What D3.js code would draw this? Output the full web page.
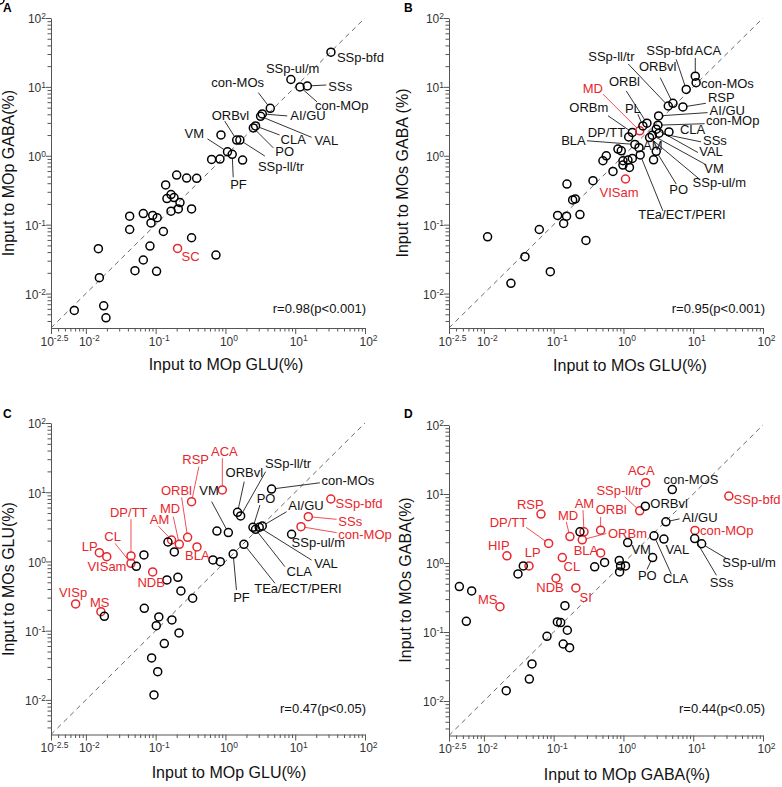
<!DOCTYPE html>
<html><head><meta charset="utf-8">
<script src="https://cdn.jsdelivr.net/npm/d3@7"></script>
<style>body{margin:0;background:#fff;} svg{display:block;font-family:"Liberation Sans",Arial,sans-serif;}</style>
</head><body><svg id="chart" width="782" height="787"></svg>
<script>
// ---------------- DATA ----------------
// Panel A: MOp GLU (x) vs MOp GABA (y)
const aNames = ["SSp-bfd","SSp-ul/m","SSs","con-MOp","con-MOs","AI/GU","VAL","CLA","PO","ORBvl","SSp-ll/tr","VM","PF","SC",
  "","","","","","","","","","","","","","","","","","","","","","","","","","","","","","","","","",""];
const aX = [32.5,8.67,14.9,11.7,4.39,3.37,3.19,2.70,2.51,1.45,1.61,1.07,1.25,0.206,
  0.863,0.634,0.834,1.76,0.200,0.278,0.387,0.139,0.166,0.145,0.183,0.223,0.166,0.211,0.327,0.0424,0.0665,0.0906,0.105,0.0857,
  0.0424,0.129,0.327,0.0151,0.0828,0.731,0.0665,0.0505,0.103,0.0156,0.00682,0.0180,0.0194];
const aY = [31.9,12.8,10.3,10.0,4.89,4.05,3.74,2.71,2.54,1.69,1.69,1.14,1.05,0.0452,
  2.01,0.885,0.895,0.865,0.525,0.475,0.470,0.377,0.273,0.239,0.247,0.209,0.157,0.169,0.169,0.133,0.145,0.136,0.126,0.106,
  0.0851,0.0796,0.0646,0.0448,0.0489,0.0362,0.0307,0.0215,0.0210,0.0170,0.00568,0.00664,0.00445];
const aRed = ["SC"];

// Panel B: MOs GLU (x) vs MOs GABA (y)
const bNames = ["ACA","con-MOs","SSp-bfd","ORBvl","SSp-ll/tr","RSP","AI/GU","con-MOp","CLA","SSs","VAL","VM","SSp-ul/m","PO",
  "TEa/ECT/PERI","AM","BLA","DP/TT","ORBm","MD","PL","ORBl","VISam",
  "","","","","","","","","","","","","","","","","","","","","","","","",""];
const bX = [10.7,11.0,7.94,5.12,4.39,7.11,3.19,3.12,4.49,3.23,2.95,2.59,2.37,2.95,
  1.74,1.67,1.46,1.19,1.34,1.71,1.90,2.17,1.07,
  2.70,0.834,0.931,0.568,0.508,0.984,1.16,1.34,0.984,1.22,0.708,0.366,0.155,0.187,0.204,0.114,0.153,0.238,0.139,0.0622,
  0.0113,0.290,0.0388,0.0895,0.0244];
const bY = [14.3,11.5,9.20,5.77,5.28,5.11,3.79,2.78,2.22,2.13,2.43,1.99,1.84,1.16,
  1.03,1.31,1.46,1.88,2.18,2.30,2.71,2.97,0.460,
  0.875,1.25,1.18,1.00,0.847,0.847,0.865,0.914,0.733,0.678,0.593,0.435,0.389,0.229,0.236,0.136,0.133,0.140,0.104,0.0851,
  0.0667,0.0590,0.0343,0.0208,0.0141];
const bRed = ["MD","VISam"];

// Panel C: MOp GLU (x) vs MOs GLU (y)
const cNames = ["ACA","RSP","ORBl","MD","AM","BLA","DP/TT","CL","LP","VISam","NDB","VISp","MS","SSp-bfd","SSs","con-MOp",
  "ORBvl","SSp-ll/tr","VM","con-MOs","PO","CLA","VAL","AI/GU","SSp-ul/m","TEa/ECT/PERI","PF",
  "","","","","","","","","","","","","","","","","","","","",""];
const cX = [0.902,0.327,0.287,0.218,0.169,0.391,0.0443,0.0443,0.0156,0.0199,0.0906,0.00713,0.0164,32.4,15.4,12.1,
  1.49,1.65,1.10,4.58,2.48,2.70,3.05,3.37,8.87,1.84,1.29,
  0.755,0.662,0.843,0.150,0.185,0.0679,0.0528,0.145,0.208,0.230,0.339,0.0687,0.0184,0.111,0.171,0.102,0.216,0.133,0.0875,
  0.107,0.0946];
const cY = [10.8,7.31,2.23,1.77,2.04,1.62,1.20,0.940,1.34,1.17,0.705,0.243,0.188,7.98,4.44,3.18,
  5.12,4.54,2.61,11.1,3.11,2.91,3.11,3.25,2.47,1.77,1.28,
  2.75,1.05,0.993,1.91,1.37,1.24,0.851,0.540,0.590,0.374,0.294,0.210,0.161,0.158,0.143,0.118,0.0927,0.0650,0.0404,
  0.0256,0.0118];
const cRed = ["ACA","RSP","ORBl","MD","AM","BLA","DP/TT","CL","LP","VISam","NDB","VISp","MS","SSp-bfd","SSs","con-MOp"];

// Panel D: MOp GABA (x) vs MOs GABA (y)
const dNames = ["ACA","SSp-ll/tr","RSP","AM","ORBl","MD","ORBm","DP/TT","HIP","LP","CL","BLA","NDB","SI","MS","SSp-bfd","con-MOp",
  "con-MOS","ORBvl","AI/GU","VM","CLA","VAL","PO","SSs","SSp-ul/m",
  "","","","","","","","","","","","","","","","","","","","","",""];
const dX = [2.08,1.71,0.0658,0.272,0.471,0.171,0.257,0.0847,0.0214,0.0443,0.133,0.471,0.108,0.208,0.0170,32.4,10.6,
  5.01,2.06,4.06,1.15,2.74,3.80,2.62,10.5,13.2,
  0.238,0.387,0.537,0.871,0.910,1.07,0.881,0.0367,0.0308,0.00445,0.00668,0.00560,0.145,0.113,0.126,0.157,0.0802,0.137,
  0.169,0.0489,0.0448,0.0209];
const dY = [14.6,5.71,5.11,2.83,2.99,2.42,2.17,1.92,1.27,0.908,1.20,1.40,0.601,0.436,0.233,9.33,2.96,
  11.6,6.67,3.95,1.98,2.48,2.22,1.20,2.26,1.90,
  2.83,0.879,1.02,1.09,0.908,0.908,0.743,0.908,0.695,0.455,0.394,0.143,0.241,0.140,0.137,0.106,0.0867,0.0670,
  0.0593,0.0344,0.0208,0.0141];
const dRed = ["ACA","SSp-ll/tr","RSP","AM","ORBl","MD","ORBm","DP/TT","HIP","LP","CL","BLA","NDB","SI","MS","SSp-bfd","con-MOp"];

const majorTicks = [0.01, 0.1, 1, 10, 100];
const rTexts = ["r=0.98(p<0.001)","r=0.95(p<0.001)","r=0.47(p<0.05)","r=0.44(p<0.05)"];
const xTitles = ["Input to MOp GLU(%)","Input to MOs GLU(%)","Input to MOp GLU(%)","Input to MOp GABA(%)"];
const yTitles = ["Input to MOp GABA(%)","Input to MOs GABA (%)","Input to MOs GLU(%)","Input to MOs GABA(%)"];
const letters = ["A","B","C","D"];

// ---------------- LAYOUT (label offsets in px: [dx, dy, leaderDx, leaderDy]) ----------------
const layoutA = {
 "SSp-bfd":[6,10],"SSp-ul/m":[-25,-7],"SSs":[21,5,19,-1],"con-MOp":[15,23,17,15],"con-MOs":[-59,-21,-12,-15.7],
 "AI/GU":[28,6,25,2],"VAL":[54,29,51,21],"CLA":[25,18,24,9],"PO":[22,28,20,20],"ORBvl":[-25,-20,-12,-19],
 "SSp-ll/tr":[18,31,25,16],"VM":[-43,-14,-20,-13],"PF":[-2,35,1,23],"SC":[4,13]
};
const layoutB = {
 "ACA":[-0.7,-20.7,0,-18.3],"con-MOs":[5,5],"SSp-bfd":[-40,-34,-10,-30],"ORBvl":[-34,-32,-12.7,-25.7],
 "SSp-ll/tr":[-80,-45,-40,-42],"RSP":[25,-5,23,-3.7],"AI/GU":[51,-0.7,49,-3.3],"con-MOp":[48,0,46.7,-1.5],
 "CLA":[11,2],"SSs":[44,12,42,8.7],"VAL":[43,27,41.7,23.3],"VM":[52,38,54,29.7],"SSp-ul/m":[43,49,50,41.7],
 "PO":[13,43,20,32.7],"TEa/ECT/PERI":[-2,64,22.7,56],"AM":[4,2.3],"BLA":[-73.7,0.7,-48,-3.7],"DP/TT":[-41,0],
 "ORBm":[-63,-20,-24.3,-16.7],"MD":[-57,-38,-36.7,-36.7],"PL":[-18,-13,-5,-11.7],"ORBl":[-38,-37,-20.7,-32.3],
 "VISam":[-26,18]
};
const layoutC = {
 "ACA":[-11.3,-34,0,-31.7],"RSP":[-9.3,-37.3,7.3,-35],"ORBl":[-26.7,-42.3,-6,-40],"MD":[-19.3,-31,-6,-27.7],
 "AM":[-21.7,-16,-13.3,-14],"BLA":[-12,13],"DP/TT":[-21,-39.3,0,-36.7],"CL":[-26.7,-22.7,-16,-20],"LP":[-17.5,-2],
 "VISam":[-19.3,14],"NDB":[-15.3,14.7],"VISp":[-16.7,-7.3],"MS":[-11,-5],"SSp-bfd":[4.7,9.3],"SSs":[30,9,28.3,2.7],
 "con-MOp":[37.3,12.5,35.7,6],"ORBvl":[-12,-35.7,6.7,-30.7],"SSp-ll/tr":[24.3,-47.7,25,-44.3],"VM":[-29,-37.7,-16.7,-31],
 "con-MOs":[50,-4,48.3,-6.3],"PO":[3.7,-24,7,-22.3],"AI/GU":[26,-16,24.3,-14.3],"SSp-ul/m":[0,13],
 "VAL":[55,41,52.3,32.7],"CLA":[31,46.7,29.3,37.3],"TEa/ECT/PERI":[10.3,49,31,39],"PF":[0,47.7,3.3,36]
};
const layoutD = {
 "ACA":[-17.7,-7.7],"SSp-ll/tr":[-43.3,-15.7,-15,-14],"RSP":[-24,-4.7],"AM":[-9.3,-24,-1,-21.7],"ORBl":[-5,-16,0,-13.3],
 "MD":[-12,-17,-3.7,-14.7],"ORBm":[25.7,-1.3,24,-6.3],"DP/TT":[-59,-16,-22.3,-16],"HIP":[-19,-6.3],"LP":[-4.3,-9],
 "CL":[1.3,13.3],"BLA":[-27,2.3],"NDB":[-19.7,13.7],"SI":[3.7,14],"MS":[-22,-2.3],"SSp-bfd":[4.7,8],"con-MOp":[5,4.7],
 "con-MOS":[-8.7,-6],"ORBvl":[5,1.7],"AI/GU":[16.3,0,13.7,-3],"VM":[3.7,11],"VAL":[1.7,15],"PO":[-14.7,22,-5.7,12],
 "CLA":[9,47,17.3,38.3],"SSs":[15,48.3,21.7,36.7],"SSp-ul/m":[20.7,23.7,24.7,14.7]
};

const frames = [
 {x0:51, x1:365, y0:328, y1:18, xt:[226,370], yt:[14,173], lt:[3,12], rt:[366,313]},
 {x0:449, x1:763, y0:328, y1:18, xt:[630,371], yt:[408,173], lt:[404,12], rt:[765,313]},
 {x0:51, x1:365, y0:734.5, y1:423, xt:[229,778], yt:[14,579], lt:[3,418], rt:[366,713]},
 {x0:449, x1:763, y0:735.5, y1:425, xt:[627,780], yt:[411,580], lt:[404,418], rt:[765,713]}
];

const RED = "#e8262b", AX = "#555", R = 4;
const svg = d3.select("#chart");
const dmin = Math.pow(10,-2.5);
const minorTicks = [];
for (let e = -3; e < 2; e++) for (let m = 2; m < 10; m++) { const v = m*Math.pow(10,e); if (v > dmin) minorTicks.push(v); }

function expLabel(d){ return String(Math.round(Math.log10(d)*10)/10); }
function styleLabels(g){
  g.selectAll(".tick text").each(function(d){
    const t = d3.select(this); t.text(null);
    t.append("tspan").text("10");
    t.append("tspan").attr("dy","-0.5em").attr("font-size","8.5px").text(expLabel(d));
  });
}

function drawPanel(i, names, xs, ys, reds, layout){
  const f = frames[i];
  const x = d3.scaleLog().domain([dmin,100]).range([f.x0,f.x1]);
  const y = d3.scaleLog().domain([dmin,100]).range([f.y0,f.y1]);
  const g = svg.append("g");

  // minor ticks
  g.append("g").attr("transform",`translate(0,${f.y0})`)
    .call(d3.axisBottom(x).tickValues(minorTicks).tickSize(3.5).tickFormat(""))
    .call(s=>{s.select(".domain").remove(); s.selectAll("line").attr("stroke",AX);});
  g.append("g").attr("transform",`translate(${f.x0},0)`)
    .call(d3.axisLeft(y).tickValues(minorTicks).tickSize(3.5).tickFormat(""))
    .call(s=>{s.select(".domain").remove(); s.selectAll("line").attr("stroke",AX);});
  // major ticks + labels
  const gx = g.append("g").attr("transform",`translate(0,${f.y0})`)
    .call(d3.axisBottom(x).tickValues([dmin].concat(majorTicks)).tickSize(6).tickSizeOuter(0));
  gx.attr("font-size",12).attr("font-family",null);
  gx.selectAll(".tick text").attr("fill","#333").attr("y",9).attr("dy","0.71em").attr("dx",3);
  styleLabels(gx);
  gx.select(".domain").attr("stroke",AX);
  gx.selectAll("line").attr("stroke",AX);
  const gy = g.append("g").attr("transform",`translate(${f.x0},0)`)
    .call(d3.axisLeft(y).tickValues(majorTicks).tickSize(5).tickSizeOuter(0));
  gy.attr("font-size",12).attr("font-family",null);
  gy.selectAll(".tick text").attr("fill","#333").attr("x",-5).attr("dy","0.4em");
  styleLabels(gy);
  gy.select(".domain").attr("stroke",AX);
  gy.selectAll("line").attr("stroke",AX);

  // diagonal y = x
  g.append("line").attr("x1",x(dmin)).attr("y1",y(dmin)).attr("x2",x(100)).attr("y2",y(100))
    .attr("stroke","#444").attr("stroke-width",0.8).attr("stroke-dasharray","5,4");

  const pts = names.map((n,k)=>({name:n, cx:x(xs[k]), cy:y(ys[k]), red:reds.includes(n)}));
  const lab = pts.filter(p=>p.name && layout[p.name]);

  // leader lines
  g.selectAll(null).data(lab.filter(p=>layout[p.name].length>2)).join("line")
    .each(function(p){
      const L = layout[p.name]; const ex = L[2], ey = L[3]; const len = Math.hypot(ex,ey) || 1;
      d3.select(this).attr("x1",p.cx+ex/len*R).attr("y1",p.cy+ey/len*R).attr("x2",p.cx+ex).attr("y2",p.cy+ey);
    })
    .attr("stroke",p=>p.red?RED:"#000").attr("stroke-width",0.8);

  // circles
  g.selectAll(null).data(pts).join("circle")
    .attr("cx",p=>p.cx).attr("cy",p=>p.cy).attr("r",R)
    .attr("fill","none").attr("stroke",p=>p.red?RED:"#000").attr("stroke-width",1.5);

  // point labels
  g.selectAll(null).data(lab).join("text")
    .attr("x",p=>p.cx+layout[p.name][0]).attr("y",p=>p.cy+layout[p.name][1])
    .attr("font-size",13).attr("fill",p=>p.red?RED:"#111").text(p=>p.name);

  // correlation text
  g.append("text").attr("x",f.rt[0]).attr("y",f.rt[1]).attr("text-anchor","end")
    .attr("font-size",13).attr("fill","#111").text(rTexts[i]);
  // axis titles
  g.append("text").attr("x",f.xt[0]).attr("y",f.xt[1]).attr("text-anchor","middle")
    .attr("font-size",16).attr("fill","#111").text(xTitles[i]);
  g.append("text").attr("transform",`translate(${f.yt[0]},${f.yt[1]}) rotate(-90)`).attr("text-anchor","middle")
    .attr("font-size",16).attr("fill","#111").text(yTitles[i]);
  // panel letter
  g.append("text").attr("x",f.lt[0]).attr("y",f.lt[1]).attr("font-size",12).attr("font-weight","bold")
    .attr("fill","#000").text(letters[i]);
}

drawPanel(0, aNames, aX, aY, aRed, layoutA);
drawPanel(1, bNames, bX, bY, bRed, layoutB);
drawPanel(2, cNames, cX, cY, cRed, layoutC);
drawPanel(3, dNames, dX, dY, dRed, layoutD);
</script></body></html>
